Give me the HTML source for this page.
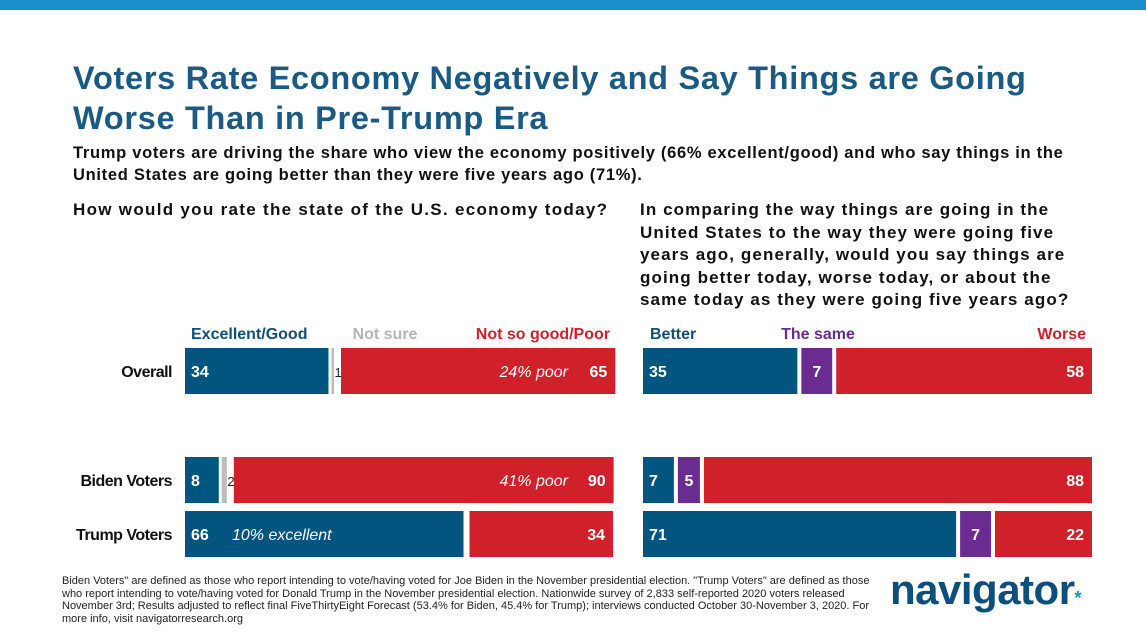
<!DOCTYPE html>
<html><head><meta charset="utf-8"><style>
body{margin:0;width:1146px;height:638px;overflow:hidden;background:#fff;font-family:"Liberation Sans",sans-serif;position:relative}
.abs{position:absolute;margin:0}
</style></head><body>
<div class="abs" style="left:0;top:0;width:1146px;height:10px;background:#1a8fc9"></div>
<h1 class="abs" style="left:73px;top:58px;font-size:32.5px;line-height:40px;color:#1b5a82;font-weight:bold;letter-spacing:0.7px">Voters Rate Economy Negatively and Say Things are Going<br>Worse Than in Pre-Trump Era</h1>
<p class="abs" style="left:73px;top:142px;font-size:16.5px;line-height:22px;font-weight:bold;color:#111;letter-spacing:0.7px;white-space:nowrap">Trump voters are driving the share who view the economy positively (66% excellent/good) and who say things in the<br>United States are going better than they were five years ago (71%).</p>
<p class="abs" style="left:73px;top:199px;font-size:17px;line-height:22px;font-weight:bold;color:#111;letter-spacing:1.3px;white-space:nowrap">How would you rate the state of the U.S. economy today?</p>
<p class="abs" style="left:640px;top:199px;font-size:17px;line-height:22.5px;font-weight:bold;color:#111;letter-spacing:1.1px;white-space:nowrap">In comparing the way things are going in the<br>United States to the way they were going five<br>years ago, generally, would you say things are<br>going better today, worse today, or about the<br>same today as they were going five years ago?</p>
<svg class="abs" style="left:0;top:0" width="1146" height="638" id="chart"></svg>
<p class="abs" style="left:62px;top:575px;font-family:'Liberation Sans Narrow','Liberation Sans',sans-serif;font-size:11px;line-height:12.5px;color:#222;width:825px">Biden Voters" are defined as those who report intending to vote/having voted for Joe Biden in the November presidential election. "Trump Voters" are defined as those who report intending to vote/having voted for Donald Trump in the November presidential election. Nationwide survey of 2,833 self-reported 2020 voters released November 3rd; Results adjusted to reflect final FiveThirtyEight Forecast (53.4% for Biden, 45.4% for Trump); interviews conducted October 30-November 3, 2020. For more info, visit navigatorresearch.org</p>
<div class="abs" style="left:890px;top:566px;font-size:42px;font-weight:bold;color:#0c4f7c;letter-spacing:-0.5px">navigator<span style="color:#1a8fc9;font-size:18px">*</span></div>
<script>
const rows=["Overall","Biden Voters","Trump Voters"];
const econGood=[34,8,66];
const econNotSure=[1,2,0];
const econPoor=[65,90,34];
const econNotes=["24% poor","41% poor","10% excellent"];
const dirBetter=[35,7,71];
const dirSame=[7,5,7];
const dirWorse=[58,88,22];
const rowY=[348,457,511], barH=46;
const NS="http://www.w3.org/2000/svg", svg=document.getElementById('chart');
function el(t,a,txt){const e=document.createElementNS(NS,t);for(const k in a)e.setAttribute(k,a[k]);if(txt!==undefined)e.textContent=txt;svg.appendChild(e);return e;}
function txt(x,y,s,fill,anchor,extra){const t=el('text',Object.assign({x:x,y:y,fill:fill,'text-anchor':anchor,'font-size':16,'font-weight':'bold','font-family':'Liberation Sans, sans-serif'},extra||{}),s);return t;}
[["Excellent/Good",191,"#0c4f7c","start","legend-excellent-good"],["Not sure",385,"#b5b5b5","middle","legend-not-sure"],["Not so good/Poor",610,"#d0202a","end","legend-not-so-good-poor"],["Better",650,"#0c4f7c","start","legend-better"],["The same",818,"#6a2c91","middle","legend-the-same"],["Worse",1086,"#d0202a","end","legend-worse"]].forEach(h=>{const t=txt(h[1],339,h[0],h[2],h[3]);

});
rows.forEach((r,i)=>{const t=txt(172,rowY[i]+29,r,"#111","end",{'letter-spacing':'-0.5'});

});
const pending=[];
function stack(x0,W,vals,cols,i,names,labelModes,gap,outGap){
  const s=(W-gap*(vals.length-1))/100;
  let x=x0;const y=rowY[i];
  vals.forEach((v,k)=>{const w=v*s;
    if(v>0){const m=labelModes[k];
      const bw=m==='out'?Math.max(w*0.6,1.5):w;
      const b=el('rect',{x:x,y:y,width:bw,height:barH,fill:cols[k]});
      
      
      pending.push([m,x,w,bw,y,v,names[k]+'-value-'+i]);
      x+=(m==='out'?bw+outGap:w+gap);}
    else x+=gap;});
}
rows.forEach((r,i)=>{
  stack(185,428,[econGood[i],econNotSure[i],econPoor[i]],["#02557f","#bdbdbd","#d0202a"],i,["econ-good","econ-notsure","econ-poor"],["start","out","end"],3,7);
  stack(643,449,[dirBetter[i],dirSame[i],dirWorse[i]],["#02557f","#6a2c91","#d0202a"],i,["dir-better","dir-same","dir-worse"],["start","mid","end"],4,4);
});
pending.forEach(p=>{const [m,x,w,bw,y,v,nm]=p;let t;
  if(m==='start')t=txt(x+6,y+29,String(v),"#fff","start");
  else if(m==='end')t=txt(x+w-8,y+29,String(v),"#fff","end");
  else if(m==='mid')t=txt(x+w/2,y+29,String(v),"#fff","middle");
  else t=txt(x+bw+0.5,y+29,String(v),"#222","start",{'font-weight':'normal','font-size':13});
  
  });
rows.forEach((r,i)=>{let t;
  if(i<2)t=txt(568,rowY[i]+29,econNotes[i],"#fff","end",{'font-style':'italic','font-weight':'normal'});
  else t=txt(232,rowY[i]+29,econNotes[i],"#fff","start",{'font-style':'italic','font-weight':'normal'});
  
  });
</script>
</body></html>
